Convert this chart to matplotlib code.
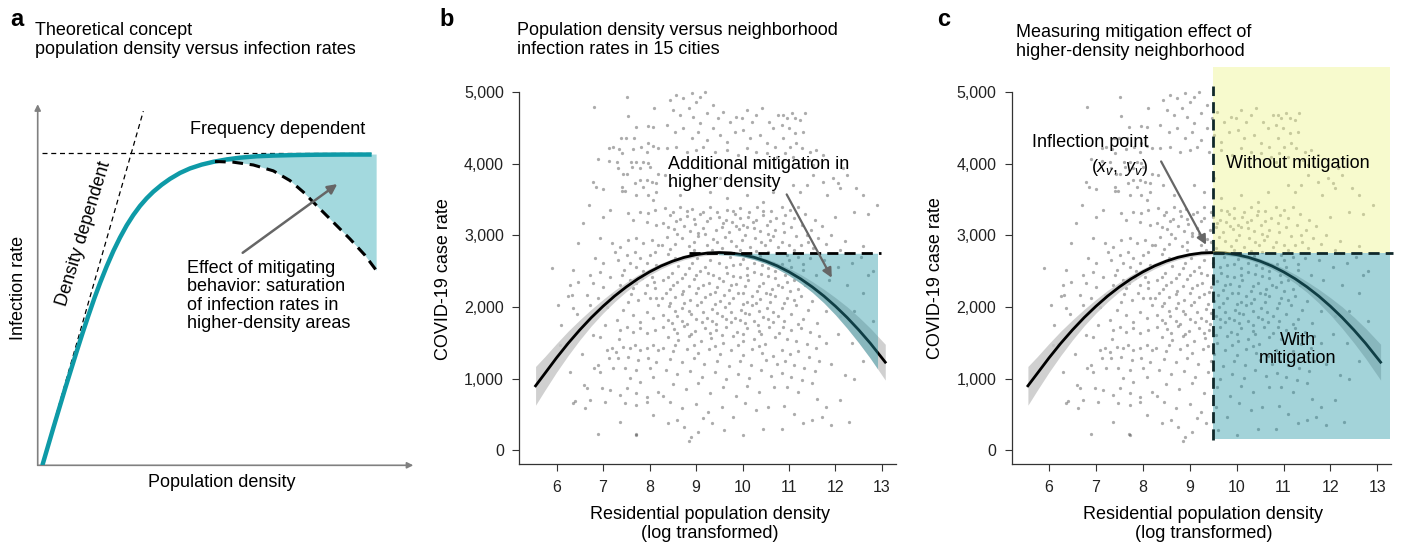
import matplotlib
matplotlib.use("Agg")
import matplotlib.pyplot as plt
from matplotlib.patches import Rectangle

plt.rcParams['font.family'] = ['Liberation Sans', 'DejaVu Sans']
plt.rcParams['mathtext.fontset'] = 'custom'
plt.rcParams['mathtext.rm'] = 'Liberation Sans'
plt.rcParams['mathtext.it'] = 'Liberation Sans:italic'

# ---------------- data ----------------
# panel a (schematic units)
sat_x = [14, 47, 82, 117, 135, 152, 170, 187, 207, 227, 247, 267, 287, 307, 327, 347, 372, 397,
         427, 457, 492, 527, 567, 607, 657, 707, 770, 837, 920, 1002]
sat_y = [0, 108, 220, 328, 382, 431, 481, 525, 573, 617, 656, 691, 721, 747, 769, 788, 808, 825,
         842, 855, 866, 874, 881, 886, 890, 892, 893.5, 894.5, 895, 895]
mit_x = [532, 587, 647, 707, 757, 797, 837, 887, 937, 982, 1017]
mit_y = [875, 873, 865, 848, 820, 787, 748, 700, 652, 605, 560]
freq_level = 900
dens_line_x = [12, 317]
dens_line_y = [0, 1020]

# panels b, c: fitted quadratic and confidence band
fit_x = [5.55, 5.75, 6.0, 6.25, 6.5, 6.75, 7.0, 7.25, 7.5, 7.75, 8.0, 8.25, 8.5, 8.75, 9.0, 9.25,
         9.5, 9.75, 10.0, 10.25, 10.5, 10.75, 11.0, 11.25, 11.5, 11.75, 12.0, 12.25, 12.5, 12.75, 13.07]
fit_y = [900, 1073, 1290, 1493, 1680, 1853, 2010, 2153, 2280, 2393, 2490, 2573, 2640, 2693, 2730, 2753,
         2760, 2753, 2730, 2693, 2640, 2573, 2490, 2393, 2280, 2153, 2010, 1853, 1680, 1493, 1230]
fit_ci = [270, 235, 200, 170, 140, 115, 95, 80, 65, 55, 45, 40, 35, 32, 30, 30,
          30, 30, 30, 32, 35, 42, 50, 62, 75, 95, 120, 150, 180, 210, 250]
x_v, y_v = 9.5, 2750
plateau_x = [8.85, 12.98]
fill_right_b = 12.89
rect_right_c = 13.27
rect_bottom_c = 165
rect_top_c = 5354

scatter_points = [
    # upper left
    (7.51,4926),(6.81,4786),(7.54,4665),(8.10,4772),(7.70,4507),(7.97,4521),(8.08,4512),(7.39,4354),
    (7.49,4354),(7.67,4354),(7.12,4214),(7.22,4237),(7.34,4205),(7.40,4144),(7.65,4200),(7.82,4237),
    (7.97,4284),(8.08,4247),(8.19,4214),(6.90,4065),(7.12,4042),(7.31,4028),(7.60,4019),(7.72,4019),
    (7.87,4028),(7.97,4005),(7.94,4168),(7.33,3935),(7.62,3958),(7.80,3935),(8.01,3958),(7.42,3851),
    (7.51,3851),(8.19,3851),(6.79,3749),(6.86,3679),(7.40,3679),(7.40,3619),(7.47,3619),(7.69,3735),
    (7.80,3772),(7.94,3772),(8.05,3740),(8.15,3726),(7.72,3563),(7.87,3679),(7.97,3563),(8.15,3609),(8.08,3493),
    # upper middle
    (8.44,4889),(8.58,4958),(8.73,4912),(8.91,4982),(9.01,4865),(9.09,4935),(9.19,5005),(8.51,4749),
    (8.66,4679),(8.84,4772),(8.94,4656),(9.09,4563),(9.23,4703),(9.37,4819),(9.48,4633),(9.59,4726),
    (9.73,4586),(9.87,4656),(9.98,4633),(10.09,4749),(10.20,4586),(10.30,4679),(10.41,4772),(10.56,4586),
    (10.66,4493),(10.77,4679),(8.37,4540),(8.55,4447),(8.73,4493),(8.91,4354),(9.05,4447),(9.23,4330),
    (9.37,4493),(9.52,4400),(9.66,4307),(9.84,4447),(10.02,4470),(10.16,4354),(10.38,4400),(10.52,4284),
    (10.70,4237),(8.37,4214),(8.58,4237),(8.80,4168),(9.01,4191),(9.16,4237),(9.41,4168),(9.66,4191),
    (9.91,4121),(10.09,4214),(10.30,4168),(10.52,4144),(10.74,4098),(8.33,3842),(8.44,3702),(8.66,3563),
    (9.30,3609),(9.66,3516),(10.09,3563),(10.45,3470),(10.66,3609),(9.09,3702),(9.52,3795),
    # upper right
    (10.88,4679),(10.95,4633),(11.06,4703),(11.13,4633),(11.24,4610),(11.34,4703),(10.84,4540),(10.99,4493),
    (11.13,4423),(11.31,4447),(10.88,4354),(11.02,4237),(11.16,4284),(11.27,4214),(11.45,4168),(11.59,4191),
    (11.74,4121),(11.95,3795),(12.06,3726),(12.10,3656),(11.74,3749),(11.52,3842),(11.38,3702),(11.24,3609),
    (11.09,3702),(11.81,3563),(12.17,3935),(12.24,3842),(12.45,3656),(12.60,3563),(10.84,4028),(10.91,4144),
    (11.09,4098),(11.42,4051),(11.52,3981),
    # middle left
    (7.15,3353),(7.54,3307),(7.80,3330),(7.97,3307),(8.12,3353),(6.58,3167),(7.01,3260),(7.65,3214),
    (7.94,3190),(8.15,3144),(6.47,2888),(6.94,2958),(7.19,2888),(7.37,2842),(7.54,2935),(7.72,2958),
    (7.87,2888),(8.05,2935),(8.19,2865),(7.26,2772),(7.51,2725),(7.69,2772),(7.80,2679),(8.01,2725),
    (8.12,2772),(6.83,2679),(7.01,2609),(7.33,2655),(7.58,2609),(7.72,2562),(7.94,2609),(8.15,2586),
    (5.90,2539),(6.36,2516),(6.72,2446),(6.94,2493),(7.15,2423),(7.40,2446),(7.58,2376),(7.83,2400),
    (8.05,2423),(6.29,2307),(6.47,2353),(6.79,2330),(7.01,2283),(7.37,2307),(7.65,2260),(7.94,2307),
    (8.12,2260),(6.33,2167),(6.65,2167),(6.90,2120),(7.19,2167),(7.54,2074),(7.76,2097),(8.01,2120),
    (6.04,2027),(6.36,1981),(6.72,2027),(7.08,2004),(7.44,1958),(7.65,1888),(7.94,1935),(8.19,2027),
    (7.30,1818),(7.80,1795),(8.08,1841),(7.85,2500),(8.10,2350),(7.60,2180),(7.90,2200),(8.15,2130),
    (7.70,2330),(7.45,2520),
    # core
    (8.33,3385),(8.66,3402),(8.92,3361),(9.31,3390),(9.66,3350),(9.95,3377),(10.31,3398),(10.61,3344),
    (8.45,3282),(8.81,3270),(9.08,3296),(9.49,3255),(9.83,3301),(10.12,3262),(10.44,3287),(10.73,3240),
    (8.30,3178),(8.58,3195),(8.97,3160),(9.23,3205),(9.58,3168),(9.77,3189),(10.02,3151),(10.23,3180),
    (10.52,3140),(8.52,3090),(8.88,3062),(9.16,3101),(9.44,3070),(9.70,3045),(9.92,3083),(10.10,3112),
    (10.38,3059),(10.70,3080),(8.37,2975),(8.69,2960),(9.05,2990),(9.37,2948),(9.62,2981),(9.99,2940),
    (10.27,2969),(10.59,2930),(8.27,2860),(8.55,2878),(8.84,2845),(9.24,2869),(9.55,2830),(9.87,2858),
    (10.16,2840),(10.48,2872),(10.77,2835),(8.40,2745),(8.73,2700),(9.02,2690),(9.73,2700),(10.02,2665),
    (10.38,2705),(10.65,2620),(8.34,2600),(8.62,2575),(8.91,2620),(9.19,2560),(9.50,2610),(9.80,2585),
    (10.09,2548),(10.41,2590),(10.70,2505),(8.48,2480),(8.77,2458),(9.09,2500),(9.37,2440),(9.66,2470),
    (9.95,2425),(10.24,2488),(10.55,2436),(8.30,2372),(8.60,2350),(8.95,2390),(9.27,2330),(9.59,2365),
    (9.86,2318),(10.11,2375),(10.45,2340),(10.76,2300),(8.44,2250),(8.73,2225),(9.05,2268),(9.41,2210),
    (9.70,2242),(10.02,2195),(10.31,2230),(10.63,2252),(8.26,2120),(8.55,2140),(8.88,2100),(9.19,2135),
    (9.52,2090),(9.80,2128),(10.09,2075),(10.38,2110),(10.70,2150),(8.41,2010),(8.70,1985),(9.02,2025),
    (9.34,1968),(9.63,2000),(9.96,1955),(10.20,2030),(10.52,1990),(8.30,1890),(8.59,1870),(8.90,1905),
    (9.23,1850),(9.55,1880),(9.84,1840),(10.13,1900),(10.45,1860),(10.77,1880),(8.48,1775),(8.80,1760),
    (9.12,1790),(9.44,1765),(9.75,1785),(10.06,1770),(10.34,1755),(10.66,1790),
    (8.50,3330),(8.80,3340),(9.15,3320),(9.45,3330),(9.80,3340),(10.15,3325),(10.45,3335),
    (8.65,3230),(8.95,3225),(9.30,3240),(9.65,3220),(9.95,3235),(10.30,3215),(10.60,3200),
    (8.40,3120),(8.75,3130),(9.05,3035),(9.55,3110),(9.85,3130),(10.25,3100),(10.55,3020),
    (8.60,3020),(8.95,2905),(9.20,3015),(9.45,2905),(9.75,2925),(10.05,3010),(10.40,2905),(10.65,2990),
    (8.45,2810),(8.95,2790),(9.35,2800),(9.95,2790),(10.30,2780),(10.55,2770),
    (8.55,2680),(8.85,2540),(9.30,2650),(9.65,2560),(9.95,2600),(10.25,2620),(10.55,2540),
    (8.40,2420),(8.70,2400),(9.00,2450),(9.25,2480),(9.50,2400),(9.80,2430),(10.10,2440),(10.40,2460),
    (10.70,2410),(8.50,2300),(8.85,2290),(9.15,2310),(9.45,2280),(9.75,2300),(10.05,2290),(10.35,2295),
    (10.60,2180),(8.35,2190),(8.70,2180),(9.00,2200),(9.30,2180),(9.60,2170),(9.90,2190),(10.20,2160),
    (10.50,2200),(8.45,2060),(8.75,2050),(9.10,2070),(9.40,2040),(9.70,2060),(10.00,2040),(10.30,2060),
    (10.60,2070),(8.55,1940),(8.85,1950),(9.15,1930),(9.45,1920),(9.75,1930),(10.05,1910),(10.35,1940),
    (10.65,1930),(8.40,1820),(8.70,1810),(9.00,1830),(9.35,1810),(9.65,1830),(9.95,1820),(10.25,1810),
    (10.55,1830),(8.60,1640),(8.90,1620),(9.30,1640),(9.55,1610),(10.00,1630),(10.40,1620),
    (8.55,1470),(8.95,1470),(9.40,1460),(9.90,1470),(10.35,1450),
    # middle right
    (10.85,3390),(11.02,3350),(11.20,3395),(10.92,3280),(11.10,3240),(11.35,3300),(11.55,3210),(10.88,3170),
    (11.05,3120),(11.28,3150),(11.48,3080),(11.70,3130),(12.00,3250),(12.40,3330),(10.90,3040),(11.15,2990),
    (11.38,3010),(11.62,2960),(11.90,3000),(12.20,2920),(10.84,2900),(11.00,2870),(11.25,2860),(11.52,2830),
    (11.80,2880),(12.10,2800),(12.60,2850),(10.95,2730),(11.20,2700),(11.45,2690),(11.75,2660),(12.05,2560),
    (12.35,2620),(12.70,2450),(10.86,2600),(11.05,2560),(11.30,2520),(11.58,2450),(11.85,2380),(12.25,2300),
    (12.60,2200),(10.92,2440),(11.10,2380),(11.35,2300),(10.84,2280),(11.02,2230),(11.25,2150),(11.50,2080),
    (11.80,1950),(12.10,1870),(10.95,2120),(11.15,2030),(11.40,1960),(10.86,1980),(11.05,1900),(11.30,1830),
    (11.60,1780),(10.90,1800),(11.20,1760),(12.40,1950),(12.80,1800),(10.90,2050),(11.10,2100),(10.95,2350),
    (11.20,2250),(11.00,2650),(11.30,2600),(11.10,2800),(11.40,2900),
    # lower left
    (6.79,1609),(6.94,1586),(7.08,1400),(7.19,1423),(7.29,1377),(7.44,1447),(7.58,1423),(7.69,1470),
    (7.80,1400),(7.94,1423),(8.08,1470),(8.19,1400),(7.37,1679),(7.51,1726),(7.65,1656),(7.80,1702),
    (7.94,1633),(8.12,1679),(7.12,1284),(7.33,1284),(7.54,1307),(7.76,1261),(7.97,1284),(8.15,1237),
    (6.90,1191),(7.22,1144),(7.47,1144),(7.72,1121),(8.01,1144),(6.94,1098),(7.58,1005),(7.80,958),
    (8.08,1028),(6.65,865),(6.97,865),(7.15,842),(7.37,772),(7.51,865),(7.72,795),(7.94,749),
    (8.19,819),(6.36,656),(6.61,586),(6.72,702),(7.04,679),(7.47,656),(7.72,633),(7.94,679),
    (8.08,493),(7.37,400),(7.72,214),(6.08,1470),(6.29,1098),
    # lower middle
    (8.30,1720),(8.52,1690),(8.75,1735),(8.98,1665),(9.20,1710),(9.42,1680),(9.65,1725),(9.88,1650),
    (10.10,1700),(10.35,1670),(10.58,1720),(10.78,1640),(8.40,1580),(8.62,1545),(8.85,1600),(9.10,1520),
    (9.33,1570),(9.58,1500),(9.80,1590),(10.02,1530),(10.25,1560),(10.48,1490),(10.70,1575),(8.28,1430),
    (8.50,1390),(8.80,1420),(9.05,1360),(9.28,1410),(9.52,1345),(9.75,1400),(10.00,1330),(10.20,1420),
    (10.42,1365),(10.66,1310),(8.45,1270),(8.70,1230),(8.95,1285),(9.18,1205),(9.45,1250),(9.70,1180),
    (9.95,1240),(10.18,1190),(10.50,1260),(10.75,1210),(8.35,1120),(8.60,1060),(8.88,1100),(9.12,1020),
    (9.40,1090),(9.64,1000),(9.90,1070),(10.15,1010),(10.40,1120),(10.62,1040),(8.50,920),(8.78,860),
    (9.05,940),(9.30,800),(9.58,880),(9.85,760),(10.10,900),(10.35,820),(10.68,880),(8.30,760),
    (8.45,680),(8.70,590),(9.00,640),(9.25,530),(9.55,600),(9.80,470),(10.05,660),(10.30,560),
    (10.55,610),(8.60,430),(9.15,450),(8.40,380),(8.75,330),(9.05,250),(9.35,380),(9.60,290),
    (10.00,220),(10.45,300),(8.90,180),(8.85,130),
    # lower right
    (10.88,1720),(11.05,1680),(11.25,1700),(11.45,1650),(11.65,1600),(10.95,1560),(11.15,1520),(11.38,1480),
    (11.58,1430),(11.80,1500),(12.05,1620),(10.85,1400),(11.02,1350),(11.20,1380),(11.42,1300),(11.65,1250),
    (11.90,1200),(10.92,1240),(11.10,1190),(11.32,1150),(11.55,1100),(10.86,1080),(11.05,1020),(11.28,980),
    (11.50,940),(12.20,1050),(12.40,1000),(10.95,880),(11.20,820),(11.60,720),(10.90,620),(11.10,500),
    (11.30,380),(11.50,420),(11.70,470),(11.90,350),(10.85,300),
    # outliers
    (6.20,1487),(6.40,688),(6.60,906),(6.80,1148),(6.90,228),(7.70,228),(6.10,1750),(6.25,2150),
    (6.55,1350),(6.45,1900),(7.05,1750),(7.35,1560),(6.70,3420),(7.00,3650),(12.70,3300),(12.90,3420),
    (12.55,2700),(12.80,2500),(12.35,1500),(12.60,1250),(12.10,700),(11.80,600),(12.30,400),
]
pt_x = [p[0] for p in scatter_points]
pt_y = [p[1] for p in scatter_points]

xticks = [6, 7, 8, 9, 10, 11, 12, 13]
yticks = [0, 1000, 2000, 3000, 4000, 5000]
ytick_labels = ['0', '1,000', '2,000', '3,000', '4,000', '5,000']

# ---------------- figure ----------------
W, H = 1402, 547
fig = plt.figure(figsize=(W / 100, H / 100), dpi=100)


def fx(px):
    return px / W


def fy(py):
    return 1 - py / H


TXT = 13
TEAL_LINE = '#0e9aa7'
TEAL_FILL = '#2596a5'
GREY_ARROW = '#666666'
PT_COLOR = '#3a3a3a'
PT_SIZE = 5.5
PT_ALPHA = 0.42

# ---------- panel a ----------
axa = fig.add_axes([fx(37.7), fy(465.3), fx(413.3) - fx(37.7), fy(104.2) - fy(465.3)])
axa.set_xlim(0, 1127)
axa.set_ylim(0, 1040)
axa.axis('off')
for tgt in [(1127, 0), (0, 1040)]:
    axa.annotate('', xy=tgt, xytext=(0, 0),
                 arrowprops=dict(arrowstyle='-|>', color='#808080', lw=1.2,
                                 mutation_scale=9, shrinkA=0, shrinkB=0),
                 annotation_clip=False)
axa.plot([dens_line_x[0], sat_x[-1]], [freq_level, freq_level], ls=(0, (4, 3)),
         color='black', lw=0.9, zorder=2)
axa.plot(dens_line_x, dens_line_y, ls=(0, (4, 3)), color='black', lw=0.9, zorder=2)
top_x = sat_x[21:] + [mit_x[-1]]
top_y = sat_y[21:] + [sat_y[-1]]
axa.fill(top_x + mit_x[::-1], top_y + mit_y[::-1], color='#a3d9de', lw=0, zorder=1)
axa.plot(sat_x, sat_y, color=TEAL_LINE, lw=3.2, zorder=3, solid_capstyle='butt',
         solid_joinstyle='round')
axa.plot(mit_x, mit_y, color='black', lw=2.2, ls=(0, (3.5, 2.2)), zorder=4)
axa.annotate('', xy=(899, 810), xytext=(615, 612),
             arrowprops=dict(arrowstyle='-|>', color=GREY_ARROW, lw=1.8,
                             mutation_scale=14, shrinkA=0, shrinkB=0), zorder=5)
axa.text(457, 967, 'Frequency dependent', fontsize=TXT, va='center', ha='left')
axa.text(137, 668, 'Density dependent', fontsize=TXT, rotation=73,
         ha='center', va='center', rotation_mode='anchor')
axa.text(447, 592, 'Effect of mitigating\nbehavior: saturation\nof infection rates in\nhigher-density areas',
         fontsize=TXT, va='top', ha='left', linespacing=1.12)

fig.text(fx(16.5), fy(19), 'a', fontsize=17, fontweight='bold', ha='center', va='center')
fig.text(fx(35), fy(40.2), 'Theoretical concept\npopulation density versus infection rates',
         fontsize=TXT, ha='left', va='center', linespacing=1.15)
fig.text(fx(18.3), fy(288), 'Infection rate', fontsize=TXT, rotation=90, ha='center', va='center')
fig.text(fx(221.7), fy(482.6), 'Population density', fontsize=TXT, ha='center', va='center')


def style(ax):
    ax.set_xlim(5.2, 13.3)
    ax.set_ylim(-195, 5360)
    for s in ['top', 'right']:
        ax.spines[s].set_visible(False)
    for s in ['left', 'bottom']:
        ax.spines[s].set_color('#333333')
        ax.spines[s].set_linewidth(0.9)
    ax.spines['left'].set_bounds(-195, 5000)
    ax.set_xticks(xticks)
    ax.set_yticks(yticks)
    ax.set_yticklabels(ytick_labels)
    ax.tick_params(length=5, width=0.8, color='#333333', labelsize=11.5,
                   labelcolor='#222222')
    ax.tick_params(axis='y', pad=6)
    ax.tick_params(axis='x', pad=6)


lower = [y - c for y, c in zip(fit_y, fit_ci)]
upper = [y + c for y, c in zip(fit_y, fit_ci)]

# ---------- panel b ----------
bl, br = 519.3, 519.3 + 8.1 * 46.5
axb = fig.add_axes([fx(bl), fy(464.3), fx(br) - fx(bl), fy(66.2) - fy(464.3)])
style(axb)
axb.scatter(pt_x, pt_y, s=PT_SIZE, c=PT_COLOR, alpha=PT_ALPHA, linewidths=0, zorder=1)
axb.fill_between(fit_x, lower, upper, color='#c8c8c8', alpha=0.85, lw=0, zorder=2)
axb.plot(fit_x, fit_y, color='black', lw=2.0, zorder=3)
tf = axb.fill_between(fit_x, lower, y_v, color=TEAL_FILL, alpha=0.42, lw=0, zorder=4)
clip = Rectangle((x_v, -200), fill_right_b - x_v, 6000, transform=axb.transData)
tf.set_clip_path(clip)
axb.plot(plateau_x, [y_v, y_v], color='black', lw=2.0, ls=(0, (4, 2.2)), zorder=5)
axb.annotate('', xy=(11.92, 2408), xytext=(10.95, 3571),
             arrowprops=dict(arrowstyle='-|>', color=GREY_ARROW, lw=1.6,
                             mutation_scale=14, shrinkA=0, shrinkB=0), zorder=6)
axb.text(8.40, 3861, 'Additional mitigation in\nhigher density', fontsize=TXT,
         ha='left', va='center', linespacing=1.1, zorder=7)

fig.text(fx(447), fy(20), 'b', fontsize=17, fontweight='bold', ha='center', va='center')
fig.text(fx(516.7), fy(40), 'Population density versus neighborhood\ninfection rates in 15 cities',
         fontsize=TXT, ha='left', va='center', linespacing=1.15)
fig.text(fx(444), fy(279.5), 'COVID-19 case rate', fontsize=TXT, rotation=90, ha='center', va='center')
fig.text(fx(710), fy(524), 'Residential population density\n(log transformed)', fontsize=TXT,
         ha='center', va='center', linespacing=1.1)

# ---------- panel c ----------
cl, cr = 1011.5, 1011.5 + 8.1 * 46.9
axc = fig.add_axes([fx(cl), fy(464.3), fx(cr) - fx(cl), fy(66.2) - fy(464.3)])
style(axc)
axc.scatter(pt_x, pt_y, s=PT_SIZE, c=PT_COLOR, alpha=PT_ALPHA, linewidths=0, zorder=1)
axc.fill_between(fit_x, lower, upper, color='#c8c8c8', alpha=0.85, lw=0, zorder=2)
axc.plot(fit_x, fit_y, color='black', lw=2.0, zorder=3)
axc.add_patch(Rectangle((x_v, rect_bottom_c), rect_right_c - x_v, y_v - rect_bottom_c,
                        facecolor=TEAL_FILL, alpha=0.42, lw=0, zorder=4))
axc.add_patch(Rectangle((x_v, y_v), rect_right_c - x_v, rect_top_c - y_v,
                        facecolor='#eef58a', alpha=0.42, lw=0, zorder=4, clip_on=False))
axc.plot([x_v, x_v], [140, 5082], color='#10282a', lw=2.0, ls=(0, (4, 2.2)), zorder=5)
axc.plot([x_v, 13.33], [y_v, y_v], color='#10282a', lw=2.0, ls=(0, (4, 2.2)), zorder=5,
         clip_on=False)
axc.annotate('', xy=(9.35, 2868), xytext=(8.39, 4031),
             arrowprops=dict(arrowstyle='-|>', color=GREY_ARROW, lw=1.6,
                             mutation_scale=14, shrinkA=0, shrinkB=0), zorder=6)
axc.text(8.12, 4297, 'Inflection point', fontsize=TXT, ha='right', va='center', zorder=7)
axc.text(8.12, 3949, r'$(x_v,\ y_v)$', fontsize=TXT, ha='right', va='center', zorder=7)
axc.text(11.30, 4006, 'Without mitigation', fontsize=TXT, ha='center', va='center', zorder=7)
axc.text(11.30, 1410, 'With\nmitigation', fontsize=TXT, ha='center', va='center',
         linespacing=1.1, zorder=7)

fig.text(fx(944), fy(20), 'c', fontsize=17, fontweight='bold', ha='center', va='center')
fig.text(fx(1015.7), fy(42), 'Measuring mitigation effect of\nhigher-density neighborhood',
         fontsize=TXT, ha='left', va='center', linespacing=1.15)
fig.text(fx(935.7), fy(278), 'COVID-19 case rate', fontsize=TXT, rotation=90, ha='center', va='center')
fig.text(fx(1203.3), fy(524), 'Residential population density\n(log transformed)', fontsize=TXT,
         ha='center', va='center', linespacing=1.1)

fig.savefig('out.png', dpi=100)
